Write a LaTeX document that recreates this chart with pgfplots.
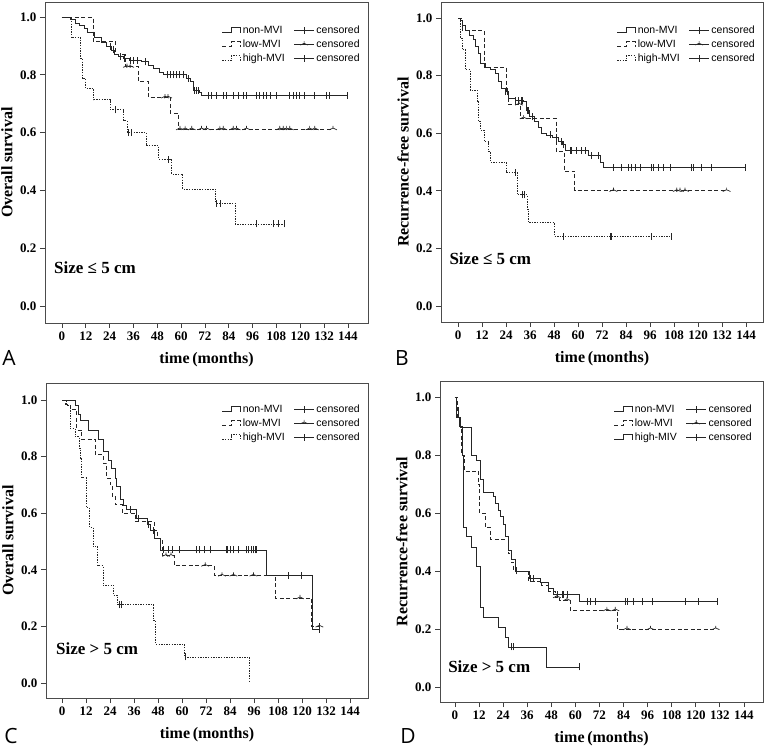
\documentclass[border=0pt]{standalone}
\usepackage{fontspec}
\setmainfont{Liberation Serif}
\setsansfont{Liberation Sans}
\newfontfamily\letterfamily{Open Sans}
\usepackage{pgfplots}
\pgfplotsset{compat=1.18}

\pgfdeclareplotmark{cplus}{%
  \pgfpathmoveto{\pgfqpoint{0pt}{-\pgfplotmarksize}}%
  \pgfpathlineto{\pgfqpoint{0pt}{\pgfplotmarksize}}%
  \pgfusepathqstroke}
\pgfdeclareplotmark{ctent}{%
  \pgfpathmoveto{\pgfqpoint{0pt}{0.9\pgfplotmarksize}}%
  \pgfpathlineto{\pgfqpoint{0pt}{0.3\pgfplotmarksize}}%
  \pgfpathmoveto{\pgfqpoint{-1.1\pgfplotmarksize}{-0.2\pgfplotmarksize}}%
  \pgfpathlineto{\pgfqpoint{0pt}{0.3\pgfplotmarksize}}%
  \pgfpathlineto{\pgfqpoint{1.1\pgfplotmarksize}{-0.2\pgfplotmarksize}}%
  \pgfusepathqstroke}

\newcommand\tickfont{\bfseries\fontsize{13}{13}\selectfont}
\newcommand\labfont{\bfseries\fontsize{16}{16}\selectfont}
\newcommand\legfont{\sffamily\fontsize{10.5}{11}\selectfont}
\newcommand\sizefont{\bfseries\fontsize{17}{17}\selectfont}
\newcommand\letfont{\letterfamily\fontsize{21}{21}\selectfont}

\pgfplotsset{
  km/.style={
    scale only axis, anchor=south west,
    xtick={0,12,...,144},
    xticklabels={0,12,24,36,48,60,72,84,96,108,120,132,144},
    ytick={0,0.2,0.4,0.6,0.8,1.0},
    yticklabels={0.0,0.2,0.4,0.6,0.8,1.0},
    tick align=outside, xtick pos=left, ytick pos=left,
    major tick length=5pt,
    tick style={line width=0.8pt, black!75},
    axis line style={line width=0.9pt, black!70},
    ticklabel style={font=\tickfont},
    xlabel={time\,(months)},
    label style={font=\labfont},
    xlabel style={at={(axis description cs:0.5,-0.115)}, anchor=center},
    ylabel style={at={(axis description cs:-0.118,0.5)}, anchor=center},
    legend columns=2, legend cell align=left,
    legend style={draw=none, fill=none, font=\legfont, inner sep=0pt,
      row sep=0pt, nodes={inner sep=2pt, text height=8pt, text depth=2pt},
      /tikz/every even column/.append style={column sep=7pt}},
  },
  kmline/.style={const plot, line width=0.8pt, black!85,
    legend image code/.code={\draw[##1] (0pt,-2pt) -- (9pt,-2pt) -- (9pt,2.5pt) -- (18pt,2.5pt) -- (18pt,-3pt);}},
  non/.style={kmline, solid},
  low/.style={kmline, dash pattern=on 4pt off 2.5pt},
  high/.style={kmline, dash pattern=on 1.4pt off 1.2pt},
  cens/.style={only marks, black!85, mark size=3.5pt, mark options={solid, line width=0.7pt},
    legend image code/.code={\draw[solid, line width=0.7pt, black!85] (0pt,0pt) -- (20pt,0pt); \draw[##1] plot coordinates {(10pt,0pt)};}},
  censp/.style={cens, mark=cplus},
  censt/.style={cens, mark=ctent},
}

\begin{document}
\begin{tikzpicture}[x=1pt,y=1pt]
\useasboundingbox (0,0) rectangle (765,750);

% ---------------- A ----------------
\begin{axis}[km, at={(45pt,427pt)}, width=323pt, height=321pt,
  xmin=-8.56, xmax=154.1, ymin=-0.0588, ymax=1.0519,
  ylabel={Overall survival},
  legend style={at={(axis description cs:0.981,0.934)}, anchor=north east}]
\addplot[non] coordinates {(0,1) (4,0.99) (6.5,0.978) (9,0.972) (11.5,0.96) (13,0.945) (16.5,0.928) (20,0.912) (22.5,0.898) (25,0.886) (26.5,0.87) (28.4,0.863) (31,0.857) (34,0.851) (40,0.845) (43.5,0.834) (46,0.822) (49,0.81) (51,0.80) (62.5,0.788) (64.5,0.776) (66,0.747) (69,0.74) (70.3,0.73) (143.5,0.73)};
\addplot[censp] coordinates {(24.5,0.898) (26,0.886) (29.5,0.863) (31.5,0.857) (34.5,0.851) (36,0.851) (38,0.851) (42,0.845) (53,0.80) (54.5,0.80) (56,0.80) (57.5,0.80) (59,0.80) (61,0.80) (63.5,0.788) (66.5,0.747) (67.5,0.747) (68.5,0.747) (73.7,0.73) (75.4,0.73) (77.9,0.73) (81.2,0.73) (82.9,0.73) (86.2,0.73) (88.7,0.73) (91.3,0.73) (92.9,0.73) (98,0.73) (99.6,0.73) (101.3,0.73) (103,0.73) (104.7,0.73) (108,0.73) (114.7,0.73) (116.4,0.73) (118,0.73) (119.7,0.73) (122.2,0.73) (127.3,0.73) (133.1,0.73) (134.8,0.73) (143.5,0.73)};
\addplot[low] coordinates {(0,1) (15.6,0.915) (27,0.87) (31.8,0.828) (38.3,0.776) (43.5,0.722) (54.4,0.667) (58.6,0.612) (136.5,0.612)};
\addplot[censt] coordinates {(32.7,0.828) (34.3,0.828) (51.9,0.722) (53.4,0.722) (59.4,0.612) (62,0.612) (65.3,0.612) (70.3,0.612) (72.8,0.612) (79.5,0.612) (81.2,0.612) (86.2,0.612) (87.9,0.612) (92.9,0.612) (109.7,0.612) (111.4,0.612) (113,0.612) (114.7,0.612) (124.7,0.612) (127.3,0.612) (136.5,0.612)};
\addplot[high] coordinates {(0,1) (4.5,0.928) (9.5,0.858) (10.3,0.786) (12,0.752) (16,0.714) (24.3,0.679) (31,0.642) (32.7,0.60) (42.4,0.554) (48.6,0.508) (55.3,0.457) (60.8,0.405) (77.5,0.356) (87.2,0.284) (112.2,0.284)};
\addplot[censp] coordinates {(27,0.679) (33.5,0.60) (35,0.60) (53.5,0.508) (77.9,0.356) (79.5,0.356) (98,0.284) (106.5,0.284) (109,0.284) (112.2,0.284)};
\legend{non-MVI,censored,low-MVI,censored,high-MVI,censored}
\node[anchor=west, font=\sizefont] at (axis cs:-5.7,0.131) {Size ≤ 5 cm};
\end{axis}

% ---------------- B ----------------
\begin{axis}[km, at={(441pt,428pt)}, width=322pt, height=320pt,
  xmin=-8.5, xmax=152.5, ymin=-0.0556, ymax=1.0556,
  ylabel={Recurrence-free survival},
  legend style={at={(axis description cs:0.981,0.934)}, anchor=north east}]
\addplot[non] coordinates {(0,1) (1,0.99) (2,0.975) (3.5,0.958) (5.5,0.94) (7.7,0.924) (8.5,0.90) (10,0.877) (11,0.843) (13.5,0.83) (16,0.82) (18.5,0.808) (20.2,0.779) (21.8,0.756) (23.5,0.744) (25.2,0.72) (28.5,0.715) (32.7,0.709) (34,0.68) (35.5,0.657) (38,0.64) (40,0.62) (41.6,0.60) (44.3,0.594) (47,0.585) (50,0.57) (52,0.56) (53.6,0.54) (65.3,0.522) (71,0.50) (72.5,0.481) (143.8,0.481)};
\addplot[censp] coordinates {(2,0.975) (23.6,0.744) (24.5,0.744) (28.6,0.715) (30.3,0.715) (31.6,0.715) (32.3,0.715) (34.5,0.68) (35.3,0.68) (37,0.657) (46.1,0.594) (49.4,0.585) (51.9,0.57) (52.8,0.56) (56.1,0.54) (56.9,0.54) (59.4,0.54) (61.9,0.54) (63.6,0.54) (66.9,0.522) (70.3,0.522) (77.7,0.481) (81.9,0.481) (85.2,0.481) (86.9,0.481) (88.6,0.481) (91.1,0.481) (96.9,0.481) (97.7,0.481) (100.2,0.481) (102.7,0.481) (106,0.481) (116.9,0.481) (117.7,0.481) (121.9,0.481) (126.9,0.481) (143.8,0.481)};
\addplot[low] coordinates {(0,1) (2,0.958) (13,0.83) (24,0.74) (25,0.70) (31,0.652) (49,0.538) (53,0.469) (58.3,0.40) (134.3,0.40)};
\addplot[censt] coordinates {(30.5,0.70) (32.8,0.652) (77.7,0.40) (109.4,0.40) (111,0.40) (113.5,0.40) (134.3,0.40)};
\addplot[high] coordinates {(0,1) (1.2,0.93) (2,0.89) (3.7,0.82) (6.2,0.75) (9.5,0.71) (10.3,0.64) (11.3,0.61) (13.3,0.57) (15.3,0.536) (16.1,0.50) (24,0.464) (29.5,0.386) (34.5,0.336) (35,0.29) (48.1,0.243) (106.5,0.243)};
\addplot[censp] coordinates {(28.6,0.464) (32.3,0.386) (33,0.386) (52.8,0.243) (76.1,0.243) (76.9,0.243) (96.9,0.243) (106.5,0.243)};
\legend{non-MVI,censored,low-MVI,censored,high-MVI,censored}
\node[anchor=west, font=\sizefont] at (axis cs:-6,0.163) {Size ≤ 5 cm};
\end{axis}

% ---------------- C ----------------
\begin{axis}[km, at={(46pt,52pt)}, width=322pt, height=315pt,
  xmin=-8, xmax=153, ymin=-0.053, ymax=1.060,
  ylabel={Overall survival},
  legend style={at={(axis description cs:0.981,0.94)}, anchor=north east}]
\addplot[non] coordinates {(0,1) (6.5,0.982) (8.2,0.95) (9,0.929) (13.2,0.894) (18.2,0.859) (20.7,0.817) (23.2,0.788) (24.8,0.758) (26.5,0.723) (27.3,0.694) (29,0.647) (30.7,0.629) (32.3,0.612) (37,0.582) (42.5,0.56) (44.4,0.54) (46.1,0.51) (49.4,0.47) (102.4,0.38) (125.2,0.19) (128.7,0.19)};
\addplot[censp] coordinates {(34.1,0.612) (38.3,0.582) (43.3,0.56) (45.8,0.54) (50.8,0.47) (53.3,0.47) (55,0.47) (58.8,0.47) (67.4,0.47) (68.8,0.47) (71.1,0.47) (74.1,0.47) (82.4,0.47) (82.9,0.47) (84.1,0.47) (85.7,0.47) (88.2,0.47) (92.4,0.47) (93.2,0.47) (94.9,0.47) (95.7,0.47) (96.6,0.47) (97.4,0.47) (113.2,0.38) (119.9,0.38) (128.7,0.19)};
\addplot[low] coordinates {(0,1) (1.5,0.985) (4,0.965) (7.3,0.894) (9.8,0.861) (16.5,0.806) (20.7,0.776) (22.3,0.723) (24,0.70) (25,0.658) (26.5,0.63) (30,0.60) (36.6,0.57) (46.1,0.54) (47.8,0.51) (50,0.45) (56,0.415) (76.1,0.38) (106.5,0.30) (124.8,0.20) (128.7,0.20)};
\addplot[censt] coordinates {(52,0.45) (54.5,0.45) (71.6,0.415) (80,0.38) (85.7,0.38) (95.7,0.38) (119,0.30) (128.7,0.20)};
\addplot[high] coordinates {(0,1) (2.3,0.982) (4,0.90) (6.5,0.87) (8.5,0.83) (9,0.794) (9.8,0.725) (12.2,0.62) (13.8,0.55) (15.5,0.483) (17.8,0.414) (20.5,0.345) (25.8,0.31) (27.8,0.276) (45.8,0.22) (46.8,0.138) (61.1,0.092) (93.7,0)};
\addplot[censp] coordinates {(28.5,0.276) (29.5,0.276) (61.8,0.092)};
\legend{non-MVI,censored,low-MVI,censored,high-MVI,censored}
\node[anchor=west, font=\sizefont] at (axis cs:-4.7,0.12) {Size > 5 cm};
\end{axis}

% ---------------- D ----------------
\begin{axis}[km, at={(440pt,48pt)}, width=323pt, height=321pt,
  xmin=-7.47, xmax=153.5, ymin=-0.0517, ymax=1.055,
  ylabel={Recurrence-free survival},
  legend style={at={(axis description cs:0.972,0.934)}, anchor=north east}]
\addplot[non] coordinates {(0,1) (0.7,0.965) (1.5,0.93) (2.5,0.895) (8.3,0.80) (10.5,0.78) (12.5,0.716) (14.1,0.672) (19.1,0.656) (19.9,0.633) (21.6,0.61) (22.4,0.587) (24.1,0.56) (24.9,0.518) (26.6,0.47) (28.3,0.44) (30,0.40) (37,0.375) (42.5,0.36) (46.6,0.34) (49,0.32) (62,0.296) (130.7,0.296)};
\addplot[censp] coordinates {(30.5,0.40) (37.5,0.375) (39.1,0.375) (50.8,0.32) (53.3,0.32) (54.1,0.32) (55.8,0.32) (65.8,0.296) (67.4,0.296) (69.9,0.296) (84.9,0.296) (85.7,0.296) (89.1,0.296) (93.2,0.296) (98.2,0.296) (114.9,0.296) (121.5,0.296) (130.7,0.296)};
\addplot[low] coordinates {(0,1) (1.3,0.93) (2.5,0.90) (3.3,0.80) (4.5,0.745) (11.5,0.70) (12.3,0.60) (15,0.55) (17.5,0.51) (26.6,0.46) (28,0.43) (29.2,0.40) (36.6,0.365) (43.3,0.35) (46.6,0.33) (49.9,0.31) (52,0.30) (57.4,0.265) (80.9,0.20) (129.9,0.20)};
\addplot[censt] coordinates {(50.8,0.31) (55.8,0.30) (75.7,0.265) (79.9,0.265) (85.7,0.20) (97.4,0.20) (129.9,0.20)};
\addplot[non] coordinates {(0,1) (0.8,0.93) (2,0.90) (3.7,0.80) (4,0.62) (4.3,0.55) (5.8,0.52) (8.3,0.48) (10.8,0.415) (12.5,0.275) (14.2,0.24) (21.6,0.205) (25.3,0.17) (26.6,0.138) (45.4,0.069) (61.9,0.069)};
\addplot[censp] coordinates {(28.3,0.138) (29.1,0.138) (61.9,0.069)};
\legend{non-MVI,censored,low-MVI,censored,high-MIV,censored}
\node[anchor=west, font=\sizefont] at (axis cs:-5.1,0.07) {Size > 5 cm};
\end{axis}

\node[font=\letfont, anchor=base] at (9,384) {A};
\node[font=\letfont, anchor=base] at (402,384) {B};
\node[font=\letfont, anchor=base] at (11,7) {C};
\node[font=\letfont, anchor=base] at (408,7) {D};
\end{tikzpicture}
\end{document}
